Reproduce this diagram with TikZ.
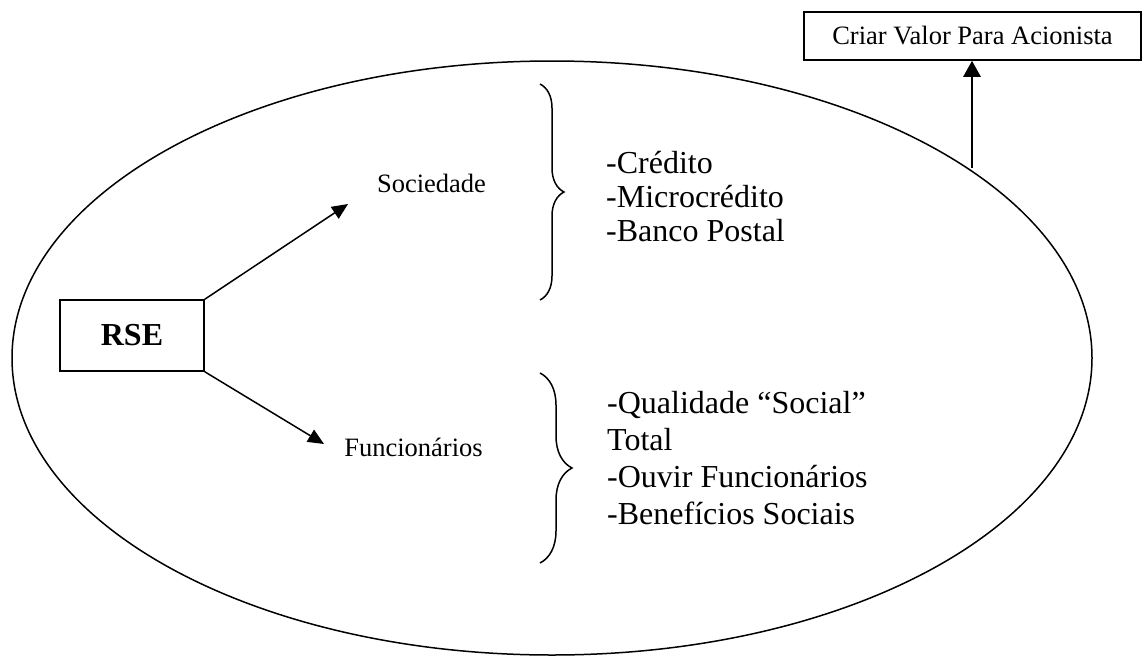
\documentclass[tikz,border=0pt]{standalone}
\usepackage{fontspec}
\setmainfont{Liberation Serif}
\usetikzlibrary{arrows.meta,shapes.geometric,decorations.pathreplacing}
\begin{document}
\begin{tikzpicture}[x=1pt,y=-1pt,
  line/.style={line width=1.5pt},
  arr/.style={line, -{Triangle[length=16pt,width=14pt]}},
  bigarr/.style={line width=2.6pt, -{Triangle[length=16pt,width=17pt]}},
  lbl/.style={font=\fontsize{26.5}{30}\selectfont, inner sep=0pt},
  listtxt/.style={align=left, inner sep=0pt, anchor=west},
  bracestyle/.style={line, decorate, decoration={brace, amplitude=#1}}
]
\useasboundingbox (0,0) rectangle (1144,656);
% main ellipse
\node[draw, line, ellipse, minimum width=1080, minimum height=594, inner sep=0pt] (ell) at (552,358) {};
% RSE box
\node[draw, line, minimum width=144, minimum height=71, inner sep=0pt,
      font=\fontsize{32}{36}\selectfont\bfseries] (rse) at (132,335.5) {RSE};
% labels
\node[lbl] (soc) at (431.5,183) {Sociedade};
\node[lbl] (func) at (413.5,447) {Funcionários};
\coordinate (socTip) at (348,204);
\coordinate (funcTip) at (324,444);
\draw[arr] (rse.north east) -- (socTip);
\draw[arr] (rse.south east) -- (funcTip);
% braces
\coordinate (b1top) at (540,84);
\coordinate (b1bot) at (540,300);
\coordinate (b2top) at (540,373);
\coordinate (b2bot) at (540,563);
\draw[bracestyle=24pt] (b1top) -- (b1bot);
\draw[bracestyle=32pt] (b2top) -- (b2bot);
% lists
\node[listtxt, font=\fontsize{32}{34}\selectfont] (list1) at (606,197)
  {-Crédito\\-Microcrédito\\-Banco Postal};
\node[listtxt, font=\fontsize{32}{37}\selectfont] (list2) at (607,458)
  {-Qualidade “Social”\\Total\\-Ouvir Funcionários\\-Benefícios Sociais};
% top box
\node[draw, line, minimum width=337, minimum height=48, inner sep=0pt,
      font=\fontsize{26.5}{30}\selectfont] (crit) at (972.5,36) {Criar Valor Para Acionista};
\coordinate (vstart) at (972,168);
\draw[bigarr] (vstart) -- (crit.south -| vstart);
\end{tikzpicture}
\end{document}
